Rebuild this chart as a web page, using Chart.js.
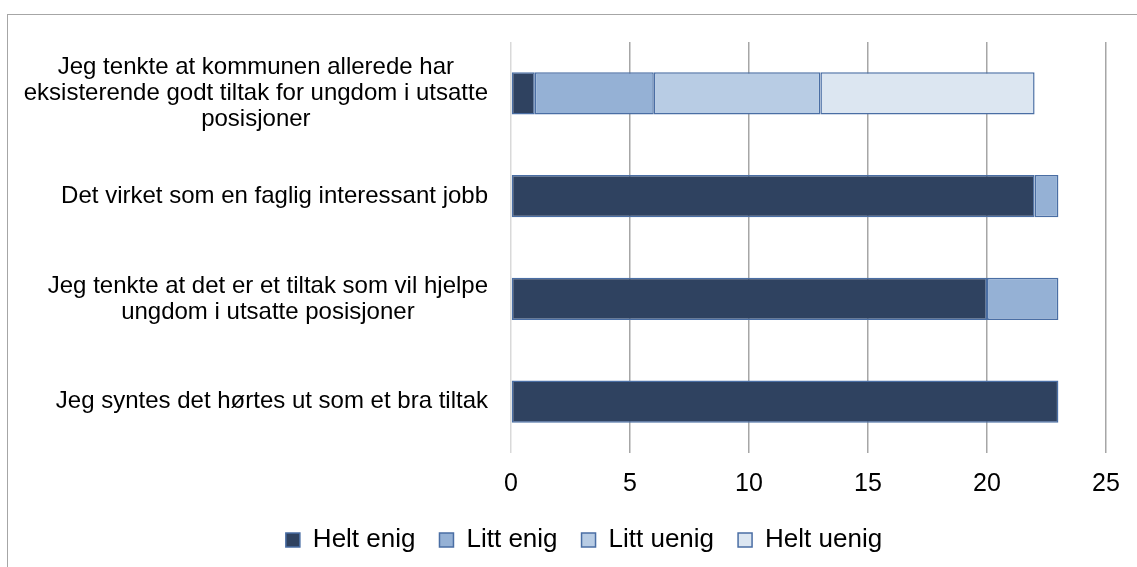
<!DOCTYPE html>
<html>
<head>
<meta charset="utf-8">
<script src="https://cdn.jsdelivr.net/npm/chart.js@4"></script>
<style>
  body { margin: 0; background: #fff; }
  #wrap { position: relative; width: 1137px; height: 567px; }
  #frame { position: absolute; left: 7px; top: 14px; width: 1140px; height: 570px; border: 1px solid #a6a6a6; pointer-events: none; }
</style>
</head>
<body>
<div id="wrap">
  <canvas id="chart" width="1137" height="567"></canvas>
  <div id="frame"></div>
</div>
<script>
const categories = [
    ["Jeg tenkte at kommunen allerede har", "eksisterende godt tiltak for ungdom i utsatte", "posisjoner"],
    ["Det virket som en faglig interessant jobb"],
    ["Jeg tenkte at det er et tiltak som vil hjelpe", "ungdom i utsatte posisjoner"],
    ["Jeg syntes det hørtes ut som et bra tiltak"]
];
const heltEnig = [1, 22, 20, 23];
const littEnig = [5, 1, 3, 0];
const littUenig = [7, 0, 0, 0];
const heltUenig = [9, 0, 0, 0];
const xTicks = [0, 5, 10, 15, 20, 25];

const border = '#4a6ea4';
const font = "'Liberation Sans', Arial, sans-serif";

// category labels: each block right-aligned to the axis, lines centred inside the block
const categoryLabels = {
    id: 'categoryLabels',
    afterDraw(chart) {
        const c = chart.ctx;
        const y = chart.scales.y;
        const lineH = 26;
        const right = y.right - 23;
        c.save();
        c.font = "24px " + font;
        c.fillStyle = '#000';
        c.textAlign = 'center';
        c.textBaseline = 'middle';
        categories.forEach((lines, i) => {
            const w = Math.max(...lines.map(l => c.measureText(l).width));
            const cx = right - w / 2;
            const cy = y.getPixelForTick(i);
            lines.forEach((l, j) => {
                c.fillText(l, cx, cy + (j - (lines.length - 1) / 2) * lineH);
            });
        });
        c.restore();
    }
};

const ctx = document.getElementById("chart").getContext("2d");
new Chart(ctx, {
    type: 'bar',
    data: {
        labels: categories.map(l => l.join(' ')),
        datasets: [
            { label: "Helt enig", data: heltEnig, backgroundColor: '#2f4260' },
            { label: "Litt enig", data: littEnig, backgroundColor: '#95b1d5' },
            { label: "Litt uenig", data: littUenig, backgroundColor: '#b8cce4' },
            { label: "Helt uenig", data: heltUenig, backgroundColor: '#dce6f1' }
        ].map(d => Object.assign(d, {
            borderColor: border,
            borderWidth: 1.5,
            borderSkipped: false,
            barPercentage: 0.41,
            categoryPercentage: 1
        }))
    },
    options: {
        indexAxis: 'y',
        responsive: false,
        animation: false,
        layout: { padding: { top: 42, right: 31, bottom: 4, left: 62 } },
        plugins: {
            tooltip: { enabled: false },
            legend: {
                position: 'bottom',
                labels: {
                    color: '#000',
                    font: { family: font, size: 26 },
                    boxWidth: 14,
                    boxHeight: 14,
                    padding: 24,
                    useBorderRadius: false
                }
            }
        },
        scales: {
            x: {
                stacked: true,
                min: 0,
                max: 25,
                afterBuildTicks: s => { s.ticks = xTicks.map(v => ({ value: v })); },
                afterFit: s => { s.height = 50; },
                grid: {
                    color: c => c.tick && c.tick.value === 0 ? '#d9d9d9' : '#a6a6a6',
                    lineWidth: 1.5,
                    drawTicks: false
                },
                border: { display: false },
                ticks: { color: '#000', font: { family: font, size: 25 }, padding: 16 }
            },
            y: {
                stacked: true,
                afterFit: s => { s.width = 449; },
                grid: { display: false },
                border: { display: false },
                ticks: { display: false }
            }
        }
    },
    plugins: [categoryLabels]
});
</script>
</body>
</html>
